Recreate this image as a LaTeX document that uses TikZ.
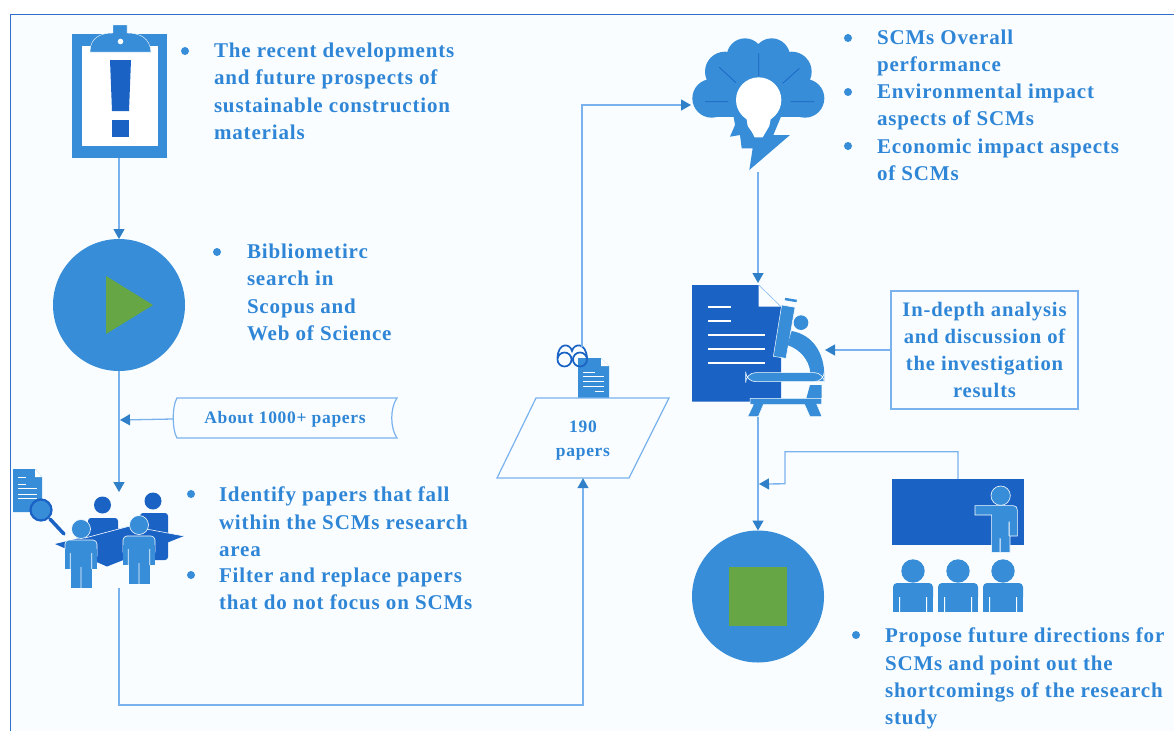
\documentclass[tikz,border=0pt]{standalone}
\usepackage{fontspec}
\setmainfont{Liberation Serif}[LetterSpace=4]
\usetikzlibrary{arrows.meta}
\definecolor{midb}{HTML}{378DD8}
\definecolor{darkb}{HTML}{1A62C4}
\definecolor{greenf}{HTML}{66A644}
\definecolor{linec}{HTML}{7AB2EE}
\definecolor{tipc}{HTML}{2F80C8}
\definecolor{framec}{HTML}{2F6FC8}
\definecolor{paperc}{HTML}{F9FDFF}
\definecolor{textc}{HTML}{2F86D6}
\tikzset{
  link/.style={draw=linec,line width=1.3pt,-{Triangle[length=10pt,width=11pt,color=tipc,fill=tipc]}},
  holder/.style={inner sep=0pt,outer sep=0pt,minimum width=#1},
  bigdisc/.style={circle,fill=midb,inner sep=0pt,outer sep=0pt,minimum size=132pt},
  textblock/.style={anchor=north west,inner sep=0pt,outer sep=0pt,align=left,text=textc,font=\fontsize{21}{27.3}\selectfont\bfseries},
  tag/.style={inner sep=0pt,align=center,text=textc,font=\fontsize{17.5}{24}\selectfont\bfseries},
  fm/.style={fill=midb,draw=paperc,line width=.6pt},
}
\newcommand{\frontman}[2]{\begin{scope}[shift={(#1,#2)}]
  \path[fm] (0,0) circle (9.5);
  \path[fm,rounded corners=4pt] (-16,11) -- (16,11) -- (16,31) -- (-16,31) -- cycle;
  \path[fill=midb] (-16,20) rectangle (16,40);
  \path[fill=midb] (-10.5,30) rectangle (10.5,59);
  \path[fill=paperc] (-11.2,24) rectangle (-10.4,40) (10.4,24) rectangle (11.2,40) (-.4,38) rectangle (.4,59);
\end{scope}}
\newcommand{\seated}[1]{\begin{scope}[shift={(#1,571)}]
  \path[fill=midb] (0,0) circle (11.7);
  \path[fill=midb,rounded corners=4pt] (-20,12) -- (20,12) -- (20,30) -- (-20,30) -- cycle;
  \path[fill=midb] (-20,20) rectangle (20,41);
  \path[fill=paperc] (-14,26) rectangle (-13,41) (13,26) rectangle (14,41);
\end{scope}}
\begin{document}
\begin{tikzpicture}[x=1pt,y=-1pt]
\useasboundingbox (0,0) rectangle (1174,731);
\fill[white] (0,0) rectangle (1174,731);
\fill[paperc] (10,14) rectangle (1174,731);
\draw[framec,line width=1.5pt] (10.5,731) -- (10.5,14.5) -- (1174,14.5);

% clipboard
\fill[midb] (72,34) rectangle (167,158);
\fill[white] (82,46) rectangle (158,146);
\path[fill=midb,draw=paperc,line width=.4pt] (90,52) .. controls (90,38) and (100,33) .. (113,33) -- (113,25) -- (127,25) -- (127,33) .. controls (140,33) and (150,38) .. (151,52) -- cycle;
\fill[paperc] (120.5,41.5) circle (2.8);
\fill[darkb] (110,60) -- (131,60) -- (129,111) -- (112,111) -- cycle;
\fill[darkb] (112,120) rectangle (129,137);
\node[holder=95pt,minimum height=124pt] (clip) at (119,96) {};

% start disc
\node[bigdisc] (play) at (119,305) {};
\fill[greenf] (106,276) -- (153,305) -- (106,334) -- cycle;

% banner
\path[fill=paperc,draw=linec,line width=1.2pt] (177,398) -- (397,398) .. controls (390,408) and (390,428) .. (397,438) -- (177,438) .. controls (172,430) and (172,406) .. (177,398) -- cycle;
\node[tag,minimum width=224pt,minimum height=40pt] (banner) at (285,419) {About 1000+ papers};

% team
\begin{scope}
  \path[fill=midb] (13,469) -- (35,469) -- (42,477) -- (42,512) -- (13,512) -- cycle;
  \path[fill=white] (35,469) -- (42,477) -- (35,477) -- cycle;
  \draw[white,line width=1pt] (18,477) -- (26,477) (18,484) -- (26,484) (18,488) -- (37,488) (18,494) -- (37,494) (18,498) -- (37,498);
  \draw[darkb,line width=2.2pt,fill=midb] (41,510) circle (10.5);
  \draw[darkb,line width=3.5pt,line cap=round] (50,519) -- (64,534);
  \fill[darkb] (102.5,505) circle (8.5);
  \path[fill=darkb,rounded corners=3pt] (88,518) rectangle (118,560);
  \fill[darkb] (153,501) circle (8.5);
  \path[fill=darkb,rounded corners=3pt] (140,513) rectangle (168,560);
  \path[fill=darkb] (55,544) -- (130,526) -- (184,536) -- (107,566.5) -- cycle;
  \draw[paperc,line width=.6pt] (85,538) -- (130,526) -- (184,536);
  \frontman{81}{529}
  \frontman{139}{525}
\end{scope}
\node[holder=1pt,minimum height=96pt] (team) at (119,540) {};

% note parallelogram and its document
\path[fill=midb] (578,358) -- (601,358) -- (609,366) -- (609,398) -- (578,398) -- cycle;
\path[fill=white] (601,358) -- (609,366) -- (601,366) -- cycle;
\draw[white,line width=.9pt] (583,372) -- (595,372) (583,376) -- (604,376) (583,381) -- (604,381) (583,386) -- (604,386) (595,391) -- (604,391);
\draw[darkb,line width=1.7pt] (564.5,359.5) circle (7) (580,359.5) circle (7);
\draw[darkb,line width=1.7pt] (557.5,358) .. controls (558,342) and (570,343) .. (572,351) .. controls (574,343) and (586,342) .. (587,358);
\node[holder=1pt,minimum height=51pt] (reader) at (582,372.5) {};
\path[fill=paperc,draw=linec,line width=1.2pt] (497,478) -- (536,398) -- (669,398) -- (629,478) -- cycle;
\node[tag,minimum width=100pt,minimum height=75pt] (para) at (583,440.5) {190\\papers};

% cloud
\begin{scope}[shift={(480,0)},scale=1/3]
  \fill[midb] (795,170) circle (55) (875,170) circle (55) (735,215) circle (60) (935,215) circle (60) (695,295) circle (58) (975,295) circle (58);
  \fill[midb] (700,200) rectangle (970,352);
  \fill[midb] (760,345) -- (765,375) -- (750,410) -- (780,405) -- (785,445) -- (818,445) -- (808,510) -- (930,405) -- (880,405) -- (905,345) -- cycle;
  \fill[white] (836,300) circle (68);
  \fill[white] (783,330) -- (800,358) -- (803,378) -- (815,395) -- (824,412) -- (848,412) -- (858,395) -- (868,378) -- (872,358) -- (889,330) -- cycle;
  \draw[darkb,line width=.7pt] (836,160) -- (836,228) (718,202) -- (768,248) (958,205) -- (908,250) (675,305) -- (745,305) (932,305) -- (1002,305);
\end{scope}
\node[holder=134pt,minimum height=134pt] (cloud) at (758,105) {};

% analysis document and microscope
\begin{scope}[shift={(480,0)},scale=1/3]
  \fill[darkb] (636,855) -- (836,855) -- (836,920) -- (903,920) -- (903,1205) -- (636,1205) -- cycle;
  \draw[linec,line width=.5pt] (836,855) -- (903,920);
  \draw[white,line width=2pt] (685,920) -- (752,920) (685,962) -- (752,962) (685,1005) -- (856,1005) (685,1047) -- (856,1047) (685,1089) -- (856,1089);
  \path[fill=midb,draw=paperc,line width=.5pt] (905,915) -- (945,922) -- (918,1075) -- (880,1069) -- cycle;
  \draw[midb,line width=2.5pt] (915,897) -- (950,903);
  \fill[midb] (963,968) circle (22);
  \path[fill=midb] (922,1035) -- (935,993) .. controls (1000,1005) and (1032,1060) .. (1033,1125) -- (1033,1143) -- (988,1143) -- (991,1118) .. controls (988,1080) and (960,1048) .. (922,1035) -- cycle;
  \path[fill=midb,draw=paperc,line width=.6pt,rounded corners=10pt] (797,1118) -- (1033,1118) -- (1033,1145) -- (797,1145) -- cycle;
  \path[fill=midb] (990,1155) -- (1025,1155) -- (1025,1210) -- (975,1210) -- cycle;
  \path[fill=midb,draw=paperc,line width=.5pt] (810,1195) -- (1025,1195) -- (1025,1212) -- (1010,1212) -- (1026,1250) -- (990,1250) -- (974,1214) -- (850,1214) -- (835,1250) -- (803,1250) -- (820,1214) -- (810,1212) -- cycle;
\end{scope}
\node[holder=134pt,minimum height=134pt] (study) at (758,350) {};

% results box
\node[draw=linec,line width=1.2pt,fill=paperc,inner sep=0pt,minimum width=187pt,minimum height=118pt,text=textc,align=center,font=\fontsize{20.6}{27}\selectfont\bfseries] (box) at (984.5,350) {In-depth analysis\\and discussion of\\the investigation\\results};

% stop disc
\node[bigdisc] (stop) at (758,596.5) {};
\fill[greenf] (729,567) rectangle (787,625.5);

% presentation
\node[fill=darkb,inner sep=0pt,minimum width=132pt,minimum height=66pt] (board) at (958,512) {};
\begin{scope}[shift={(680,440)},scale=1/3]
  \path[fill=midb,draw=paperc,line width=.6pt] (885,197) -- (1000,197) .. controls (1008,197) and (1012,203) .. (1012,210) -- (1012,288) -- (990,288) -- (990,337) -- (935,337) -- (935,225) -- (885,225) -- cycle;
  \path[fill=paperc] (959,295) rectangle (962,337) (986,245) rectangle (989,288);
  \path[fill=midb,draw=paperc,line width=.6pt] (962,167) circle (29);
\end{scope}
\seated{913}
\seated{958}
\seated{1003}

% connectors
\coordinate (joinA) at (120,420);
\coordinate (joinB) at (759,484);
\draw[link] (clip.south) -- (play.north);
\draw[link] (play.south) -- (team.north);
\draw[link] (banner.west) -- (joinA);
\draw[link] (team.south) -- ++(0,117) -| (para.south);
\draw[link] (reader.north) |- (cloud.west);
\draw[link] (cloud.south) -- (study.north);
\draw[link] (box.west) -- (study.east);
\draw[link] (study.south) -- (stop.north);
\draw[link] (board.north) -- ++(0,-27) -- ++(-173,0) -- ++(0,32) -- (joinB);

% texts
\fill[midb] (185,51) circle (4);
\node[textblock] (t1) at (214,43) {The recent developments\\and future prospects of\\sustainable construction\\materials};
\fill[midb] (217,252) circle (4);
\node[textblock] (t2) at (247,244) {Bibliometirc\\search in\\Scopus and\\Web of Science};
\fill[midb] (191,494) circle (4);
\node[textblock] (t3) at (219,487) {Identify papers that fall\\within the SCMs research\\area};
\fill[midb] (191,575) circle (4);
\node[textblock] (t4) at (219,568) {Filter and replace papers\\that do not focus on SCMs};
\fill[midb] (848,38) circle (4);
\node[textblock] (t5) at (877,30) {SCMs Overall\\performance};
\fill[midb] (848,92) circle (4);
\node[textblock] (t6) at (877,84) {Environmental impact\\aspects of SCMs};
\fill[midb] (848,146) circle (4);
\node[textblock] (t7) at (877,138.5) {Economic impact aspects\\of SCMs};
\fill[midb] (856,635) circle (4);
\node[textblock] (t8) at (885,628) {Propose future directions for\\SCMs and point out the\\shortcomings of the research\\study};
\end{tikzpicture}
\end{document}
